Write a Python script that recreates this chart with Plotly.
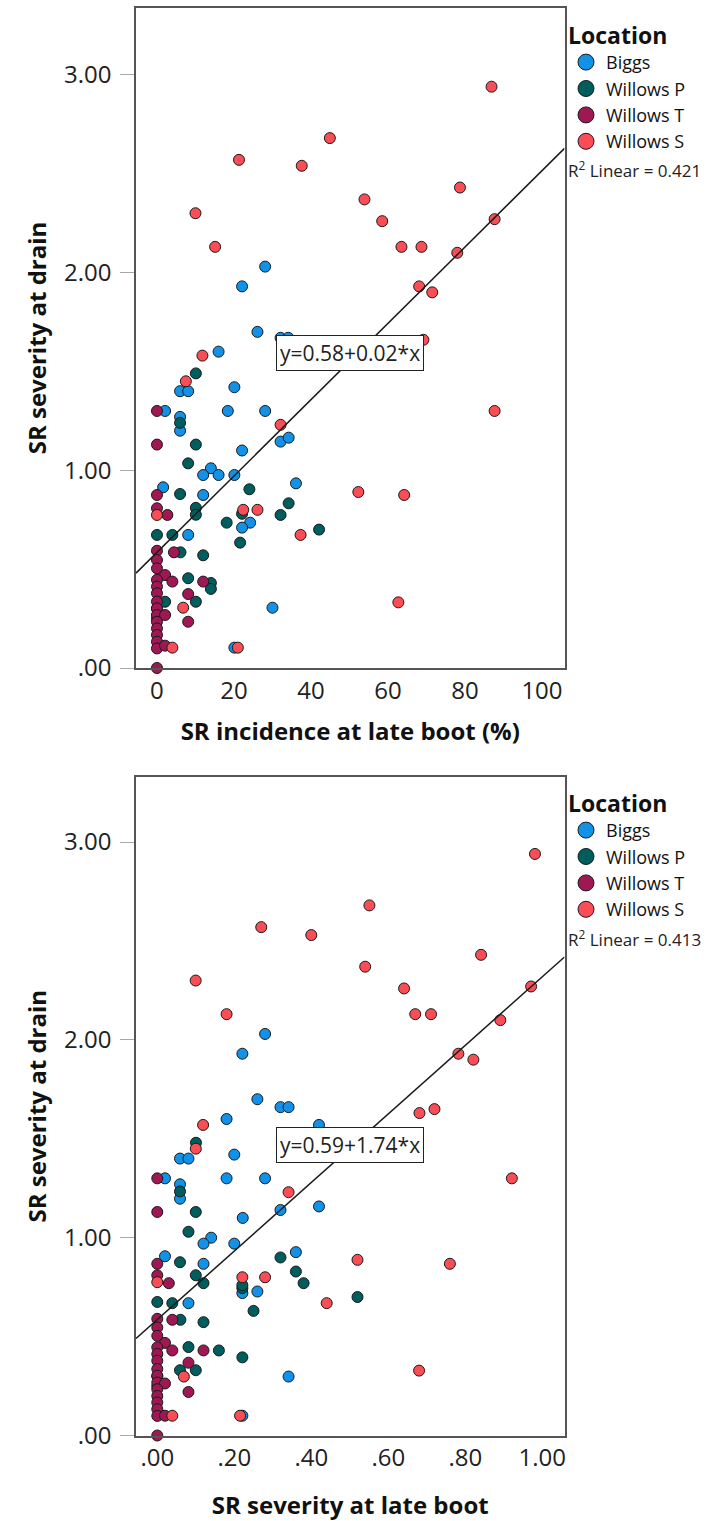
import plotly.graph_objects as go

W, H = 713, 1521
FONT = "Open Sans"

locations = ["Biggs", "Willows P", "Willows T", "Willows S"]
colors = ["#1192e8", "#005d5d", "#9f1853", "#fa4d56"]

# ---- Panel 1: SR incidence at late boot (%) vs SR severity at drain ----
inc_biggs_x = [28.1, 22.1, 26.1, 32.1, 34.1, 16.0, 6.0, 8.1, 20.1, 2.1, 18.4, 28.1, 6.0, 6.0, 32.1,
               34.2, 22.1, 14.0, 12.0, 16.0, 20.1, 36.1, 1.6, 12.0, 24.2, 22.1, 8.1, 30.0, 20.1]
inc_biggs_y = [2.03, 1.93, 1.70, 1.67, 1.67, 1.60, 1.40, 1.40, 1.42, 1.30, 1.30, 1.30, 1.27, 1.20, 1.145,
               1.165, 1.10, 1.01, 0.976, 0.976, 0.976, 0.934, 0.914, 0.875, 0.735, 0.71, 0.673, 0.305, 0.103]
inc_wp_x = [10.1, 6.0, 10.1, 8.1, 24.0, 6.0, 34.2, 10.1, 10.1, 22.1, 32.1, 18.1, 42.1, 0, 4.0,
            21.6, 6.1, 12.0, 8.1, 14.0, 14.0, 10.1, 2.1, 0, 0]
inc_wp_y = [1.49, 1.24, 1.13, 1.035, 0.904, 0.88, 0.833, 0.81, 0.775, 0.78, 0.774, 0.735, 0.70, 0.673, 0.673,
            0.634, 0.585, 0.57, 0.454, 0.43, 0.40, 0.335, 0.335, 0.30, 0.25]
inc_wt_x = [0, 0, 0, 0, 2.7, 0, 4.4, 0, 0, 2.1, 4.0, 12.0, 0, 0, 8.1, 0, 0, 0, 0, 2.1, 8.1, 0, 0, 0,
            0, 0, 2.1, 0]
inc_wt_y = [1.30, 1.13, 0.875, 0.808, 0.774, 0.593, 0.585, 0.546, 0.504, 0.47, 0.437, 0.437, 0.446, 0.412,
            0.374, 0.378, 0.336, 0.302, 0.268, 0.268, 0.234, 0.234, 0.20, 0.167, 0.133, 0.099, 0.113, 0.0]
inc_ws_x = [86.9, 44.9, 21.3, 37.6, 10.0, 53.9, 58.5, 78.7, 87.7, 15.1, 63.5, 68.7, 78.0, 68.1, 71.5,
            69.2, 11.8, 7.5, 87.7, 32.1, 52.3, 64.2, 0, 22.4, 26.1, 37.3, 6.8, 62.7, 4.0, 21.0]
inc_ws_y = [2.94, 2.68, 2.57, 2.54, 2.30, 2.37, 2.26, 2.43, 2.27, 2.13, 2.13, 2.13, 2.10, 1.93, 1.90,
            1.66, 1.58, 1.45, 1.30, 1.23, 0.89, 0.875, 0.774, 0.80, 0.80, 0.673, 0.305, 0.332, 0.103, 0.103]

# ---- Panel 2: SR severity at late boot vs SR severity at drain ----
sev_biggs_x = [0.280, 0.221, 0.260, 0.320, 0.341, 0.180, 0.420, 0.059, 0.081, 0.20, 0.02, 0.18, 0.28, 0.059,
               0.059, 0.320, 0.42, 0.222, 0.14, 0.12, 0.20, 0.02, 0.36, 0.12, 0.221, 0.26, 0.081, 0.341, 0.221]
sev_biggs_y = [2.03, 1.93, 1.70, 1.66, 1.66, 1.60, 1.57, 1.40, 1.40, 1.42, 1.30, 1.30, 1.30, 1.27,
               1.197, 1.14, 1.158, 1.10, 1.00, 0.97, 0.97, 0.906, 0.927, 0.868, 0.72, 0.728, 0.669, 0.298, 0.10]
sev_wp_x = [0.1005, 0.059, 0.10, 0.081, 0.32, 0.059, 0.36, 0.10, 0.12, 0.38, 0.221, 0.221, 0.52, 0, 0.039,
            0.25, 0.06, 0.12, 0.081, 0.16, 0.221, 0.059, 0.10, 0, 0]
sev_wp_y = [1.48, 1.234, 1.13, 1.03, 0.90, 0.876, 0.829, 0.81, 0.77, 0.77, 0.745, 0.76, 0.70, 0.675, 0.669,
            0.63, 0.585, 0.573, 0.447, 0.43, 0.395, 0.33, 0.33, 0.30, 0.25]
sev_wt_x = [0, 0, 0, 0, 0.03, 0, 0.039, 0, 0, 0.02, 0.039, 0.12, 0, 0, 0.081, 0, 0, 0, 0, 0.02, 0.081, 0,
            0, 0, 0, 0, 0.02, 0]
sev_wt_y = [1.30, 1.13, 0.868, 0.81, 0.77, 0.59, 0.585, 0.546, 0.504, 0.468, 0.43, 0.43, 0.446, 0.412,
            0.368, 0.378, 0.336, 0.302, 0.268, 0.263, 0.22, 0.234, 0.20, 0.167, 0.133, 0.099, 0.10, 0.0]
sev_ws_x = [0.981, 0.551, 0.270, 0.400, 0.0997, 0.540, 0.641, 0.841, 0.971, 0.180, 0.670, 0.711, 0.891,
            0.782, 0.821, 0.681, 0.720, 0.119, 0.10, 0.921, 0.341, 0.52, 0.76, 0, 0.221, 0.28, 0.44, 0.069,
            0.68, 0.039, 0.215]
sev_ws_y = [2.94, 2.68, 2.57, 2.53, 2.30, 2.37, 2.26, 2.43, 2.27, 2.13, 2.13, 2.13, 2.10, 1.93, 1.90,
            1.63, 1.65, 1.57, 1.45, 1.30, 1.23, 0.888, 0.868, 0.775, 0.80, 0.80, 0.669, 0.298, 0.328, 0.10, 0.10]

# fit lines (intercept, slope) and labels
fit1_intercept, fit1_slope = 0.585, 0.0193
fit2_intercept, fit2_slope = 0.586, 1.733
fit1_label, fit2_label = "y=0.58+0.02*x", "y=0.59+1.74*x"
r2_1, r2_2 = 0.421, 0.413

y_ticks = [0, 1, 2, 3]
y_ticktext = [".00", "1.00", "2.00", "3.00"]
x1_ticks = [0, 20, 40, 60, 80, 100]
x1_ticktext = ["0", "20", "40", "60", "80", "100"]
x2_ticks = [0, 0.2, 0.4, 0.6, 0.8, 1.0]
x2_ticktext = [".00", ".20", ".40", ".60", ".80", "1.00"]

x1_range = [-5.45, 105.85]
x2_range = [-0.0553, 1.0577]
y1_range = [0, 3.338]
y2_range = [0, 3.329]

panel1 = [(inc_biggs_x, inc_biggs_y), (inc_wp_x, inc_wp_y), (inc_wt_x, inc_wt_y), (inc_ws_x, inc_ws_y)]
panel2 = [(sev_biggs_x, sev_biggs_y), (sev_wp_x, sev_wp_y), (sev_wt_x, sev_wt_y), (sev_ws_x, sev_ws_y)]

fig = go.Figure()


def px_x(p):
    return p / W


def px_y(p):
    return 1 - p / H


for panel, xa, ya, leg in [(panel1, "x", "y", "legend"), (panel2, "x2", "y2", "legend2")]:
    for (xs, ys), name, col in zip(panel, locations, colors):
        fig.add_trace(go.Scatter(
            x=xs, y=ys, mode="markers", name=name, xaxis=xa, yaxis=ya, showlegend=False,
            cliponaxis=False,
            marker=dict(size=11, color=col, line=dict(color="#1a1a1a", width=1))))
    # legend entries
    for name, col in zip(locations, colors):
        fig.add_trace(go.Scatter(
            x=[None], y=[None], mode="markers", name=name, xaxis=xa, yaxis=ya, legend=leg,
            marker=dict(size=16, color=col, line=dict(color="#1a1a1a", width=1))))

# fit lines
for xa, ya, rng, b0, b1 in [("x", "y", x1_range, fit1_intercept, fit1_slope),
                            ("x2", "y2", x2_range, fit2_intercept, fit2_slope)]:
    fig.add_trace(go.Scatter(
        x=rng, y=[b0 + b1 * v for v in rng], mode="lines", xaxis=xa, yaxis=ya,
        showlegend=False, line=dict(color="#1a1a1a", width=1.5), hoverinfo="skip"))

dom_x = [px_x(136), px_x(564.5)]
axis_common = dict(showline=True, mirror=True, linecolor="#555555", linewidth=1.5,
                   showgrid=False, zeroline=False, automargin=False,
                   tickfont=dict(family=FONT, size=24, color="#222222"))
title_font = dict(family=FONT, size=24, color="#111111")
legend_common = dict(xanchor="left", yanchor="top", bgcolor="rgba(0,0,0,0)",
                     title=dict(text="<b>Location</b>", font=dict(family=FONT, size=23, color="#111111")),
                     font=dict(family=FONT, size=18, color="#111111"), itemwidth=30, tracegroupgap=0)

fig.update_layout(
    width=W, height=H, margin=dict(l=0, r=0, t=0, b=0),
    paper_bgcolor="white", plot_bgcolor="white",
    font=dict(family=FONT, color="#111111"),
    xaxis=dict(domain=dom_x, range=x1_range, tickvals=x1_ticks, ticktext=x1_ticktext, ticks="",
               anchor="y",
               title=dict(text="<b>SR incidence at late boot (%)</b>", font=title_font, standoff=19),
               **axis_common),
    yaxis=dict(domain=[px_y(668), px_y(8)], range=y1_range, tickvals=y_ticks, ticktext=y_ticktext,
               ticks="outside", ticklen=14, tickcolor="#aaaaaa", anchor="x", ticklabelstandoff=4,
               title=dict(text="<b>SR severity at drain</b>", font=title_font, standoff=11),
               **axis_common),
    xaxis2=dict(domain=dom_x, range=x2_range, tickvals=x2_ticks, ticktext=x2_ticktext, ticks="",
                anchor="y2",
                title=dict(text="<b>SR severity at late boot</b>", font=title_font, standoff=28),
                **axis_common),
    yaxis2=dict(domain=[px_y(1435.5), px_y(777)], range=y2_range, tickvals=y_ticks, ticktext=y_ticktext,
                ticks="outside", ticklen=14, tickcolor="#aaaaaa", anchor="x2", ticklabelstandoff=4,
                title=dict(text="<b>SR severity at drain</b>", font=title_font, standoff=11),
                **axis_common),
    legend=dict(x=px_x(566), y=px_y(14), **legend_common),
    legend2=dict(x=px_x(566), y=px_y(782), **legend_common),
)

# fit equation labels
fig.add_annotation(x=50.1, y=1.595, xref="x", yref="y", text=fit1_label, showarrow=False,
                   font=dict(family=FONT, size=21, color="#222222"), bgcolor="white",
                   bordercolor="#222222", borderwidth=1, borderpad=3)
fig.add_annotation(x=0.50, y=1.47, xref="x2", yref="y2", text=fit2_label, showarrow=False,
                   font=dict(family=FONT, size=21, color="#222222"), bgcolor="white",
                   bordercolor="#222222", borderwidth=1, borderpad=3)

# R^2 labels
fig.add_annotation(x=px_x(566), y=px_y(170), xref="paper", yref="paper", xanchor="left",
                   yanchor="middle", showarrow=False, text=f"R<sup>2</sup> Linear = {r2_1:.3f}",
                   font=dict(family=FONT, size=17, color="#222222"))
fig.add_annotation(x=px_x(566), y=px_y(938), xref="paper", yref="paper", xanchor="left",
                   yanchor="middle", showarrow=False, text=f"R<sup>2</sup> Linear = {r2_2:.3f}",
                   font=dict(family=FONT, size=17, color="#222222"))

fig.write_html("out.html", post_script="document.body.style.margin='0';",
               config={"displayModeBar": False})
